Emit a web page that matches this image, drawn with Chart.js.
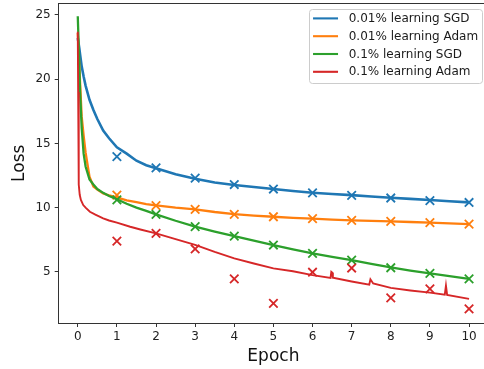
<!DOCTYPE html>
<html><head><meta charset="utf-8">
<script src="https://cdn.jsdelivr.net/npm/chart.js@4.4.1/dist/chart.umd.min.js"></script>
<style>
html,body{margin:0;padding:0;overflow:hidden;background:#fff;width:484px;height:369px}
#wrap{width:489px;height:369px}
</style></head>
<body><div id="wrap"><canvas id="c" width="489" height="369"></canvas></div>
<script>
const seriesLabels = ['0.01% learning SGD', '0.01% learning Adam', '0.1% learning SGD', '0.1% learning Adam'];
const seriesColors = ['#1f77b4', '#ff7f0e', '#2ca02c', '#d62728'];

// training loss curves
const trainEpochs = [0, 0.02, 0.04, 0.06, 0.1, 0.15, 0.2, 0.3, 0.4, 0.5, 0.65, 0.8, 1.0, 1.25, 1.5, 1.75, 2, 2.5, 3, 3.5, 4, 4.5, 5, 5.5, 6, 6.5, 7, 7.5, 8, 8.5, 9, 9.5, 10];
const sgd001Train  = [23.2, 22.8, 22.4, 21.9, 21.0, 20.2, 19.5, 18.4, 17.6, 16.9, 16.0, 15.4, 14.7, 14.2, 13.65, 13.3, 13.06, 12.6, 12.25, 11.95, 11.76, 11.6, 11.45, 11.3, 11.16, 11.06, 10.97, 10.87, 10.77, 10.68, 10.6, 10.5, 10.41];
const adam001Train = [23.6, 22.3, 21.0, 19.7, 17.1, 15.6, 14.3, 12.4, 11.65, 11.4, 11.1, 10.95, 10.8, 10.57, 10.42, 10.28, 10.17, 10.0, 9.87, 9.66, 9.5, 9.38, 9.29, 9.21, 9.14, 9.07, 9.01, 8.97, 8.93, 8.88, 8.83, 8.78, 8.72];
const sgd01Train   = [24.9, 23.0, 21.0, 19.0, 16.2, 14.2, 13.2, 12.2, 11.8, 11.45, 11.15, 10.9, 10.65, 10.3, 10.0, 9.75, 9.48, 8.98, 8.52, 8.14, 7.79, 7.44, 7.09, 6.76, 6.44, 6.17, 5.92, 5.63, 5.35, 5.1, 4.88, 4.66, 4.46];
const adam01Epochs = [0, 0.01, 0.02, 0.03, 0.05, 0.08, 0.14, 0.2, 0.31, 0.45, 0.65, 0.8, 1.0, 1.34, 1.6, 2, 2.5, 3, 3.5, 4, 4.5, 5, 5.5, 6, 6.46, 6.48, 6.5, 6.52, 7, 7.45, 7.48, 7.55, 8, 8.5, 9, 9.38, 9.41, 9.44, 10];
const adam01Train  = [23.7, 19.0, 14.5, 11.8, 11.0, 10.6, 10.2, 10.0, 9.68, 9.45, 9.17, 9.0, 8.83, 8.51, 8.3, 8.0, 7.55, 7.1, 6.55, 6.05, 5.65, 5.27, 5.05, 4.75, 4.52, 5.0, 4.95, 4.55, 4.25, 4.0, 4.42, 4.1, 3.75, 3.55, 3.38, 3.23, 3.92, 3.2, 2.9];

// per-epoch validation loss (x markers)
const valEpochs  = [1, 2, 3, 4, 5, 6, 7, 8, 9, 10];
const sgd001Val  = [13.97, 13.1, 12.3, 11.8, 11.45, 11.15, 10.95, 10.75, 10.55, 10.4];
const adam001Val = [10.98, 10.15, 9.87, 9.48, 9.29, 9.14, 9.01, 8.93, 8.83, 8.72];
const sgd01Val   = [10.6, 9.48, 8.52, 7.79, 7.09, 6.44, 5.92, 5.32, 4.88, 4.46];
const adam01Val  = [7.4, 8.0, 6.78, 4.46, 2.55, 4.97, 5.3, 2.98, 3.68, 2.12];

const xTicks = [0, 1, 2, 3, 4, 5, 6, 7, 8, 9, 10];
const yTicks = [5, 10, 15, 20, 25];

const pts = (xs, ys) => xs.map((x, i) => ({x: x, y: ys[i]}));
const trainSets = [
  pts(trainEpochs, sgd001Train), pts(trainEpochs, adam001Train),
  pts(trainEpochs, sgd01Train), pts(adam01Epochs, adam01Train)
];
const valSets = [
  pts(valEpochs, sgd001Val), pts(valEpochs, adam001Val),
  pts(valEpochs, sgd01Val), pts(valEpochs, adam01Val)
];
const lineWidths = [2.6, 2.3, 2.3, 1.9];

const datasets = [];
for (let i = 0; i < 4; i++) {
  datasets.push({
    label: seriesLabels[i], data: trainSets[i], showLine: true, isTrain: true,
    borderColor: seriesColors[i], backgroundColor: seriesColors[i],
    borderWidth: lineWidths[i], pointRadius: 0, tension: 0, order: 8 - 2 * i
  });
  datasets.push({
    label: seriesLabels[i] + ' val', data: valSets[i], showLine: false,
    borderColor: seriesColors[i], backgroundColor: seriesColors[i],
    pointStyle: 'crossRot', pointRadius: 6, pointBorderWidth: 1.8, order: 7 - 2 * i
  });
}

const FONT = "'DejaVu Sans', sans-serif";
const extras = {
  id: 'extras',
  afterDraw(chart) {
    const {ctx, chartArea: a} = chart;
    ctx.save();
    ctx.strokeStyle = '#333'; ctx.lineWidth = 1;
    ctx.beginPath();
    ctx.moveTo(a.left, a.top + 0.5); ctx.lineTo(a.right, a.top + 0.5);
    ctx.moveTo(a.right - 0.5, a.top); ctx.lineTo(a.right - 0.5, a.bottom);
    ctx.stroke();
    // legend
    ctx.font = '12px ' + FONT;
    const items = chart.data.datasets.filter(d => d.isTrain);
    let tw = 0;
    items.forEach(d => { tw = Math.max(tw, ctx.measureText(d.label).width); });
    const w = 4 + 25 + 10.7 + tw + 3.7;
    const right = a.right - 6.8, top = a.top + 6.4;
    const left = right - w, h = 74;
    ctx.fillStyle = 'rgba(255,255,255,0.8)';
    ctx.strokeStyle = '#cccccc'; ctx.lineWidth = 1;
    ctx.beginPath();
    ctx.roundRect(Math.round(left) + 0.5, Math.round(top) + 0.5, Math.round(w), h, 3);
    ctx.fill(); ctx.stroke();
    items.forEach((d, i) => {
      const y = top + 9 + i * 17.8;
      ctx.strokeStyle = d.borderColor; ctx.lineWidth = 2.1;
      ctx.beginPath(); ctx.moveTo(left + 4, y); ctx.lineTo(left + 29, y); ctx.stroke();
      ctx.fillStyle = '#1a1a1a'; ctx.textBaseline = 'middle'; ctx.textAlign = 'left';
      ctx.fillText(d.label, left + 39.7, y + 0.5);
    });
    ctx.restore();
  }
};

new Chart(document.getElementById('c'), {
  type: 'scatter',
  data: {datasets: datasets},
  options: {
    responsive: false, animation: false, devicePixelRatio: 1,
    layout: {autoPadding: false, padding: {top: 3, right: 0.4, left: 0, bottom: 0}},
    plugins: {legend: {display: false}, tooltip: {enabled: false}},
    scales: {
      x: {
        type: 'linear', min: -0.5, max: 10.5,
        afterFit: s => { s.height = 45.5; s.paddingLeft = 0; s.paddingRight = 0; },
        afterBuildTicks: s => { s.ticks = xTicks.map(v => ({value: v})); },
        ticks: {color: '#222', font: {family: FONT, size: 12}, padding: 3, maxRotation: 0, autoSkip: false,
                callback: v => String(v)},
        grid: {drawOnChartArea: false, drawTicks: true, tickLength: 3.5, color: '#333', tickWidth: 1},
        border: {display: true, color: '#333', width: 1},
        title: {display: true, text: 'Epoch', color: '#111', font: {family: FONT, size: 17}, padding: {top: 0, bottom: 2}}
      },
      y: {
        type: 'linear', min: 0.98, max: 25.93,
        afterFit: s => { s.width = 58.2; s.paddingTop = 0; s.paddingBottom = 0; },
        afterBuildTicks: s => { s.ticks = yTicks.map(v => ({value: v})); },
        ticks: {color: '#222', font: {family: FONT, size: 12}, padding: 4, autoSkip: false,
                callback: v => String(v)},
        grid: {drawOnChartArea: false, drawTicks: true, tickLength: 3.5, color: '#333', tickWidth: 1},
        border: {display: true, color: '#333', width: 1},
        title: {display: true, text: 'Loss', color: '#111', font: {family: FONT, size: 17}, padding: {top: 9.5, bottom: 0}}
      }
    }
  },
  plugins: [extras]
});
</script>
</body></html>
